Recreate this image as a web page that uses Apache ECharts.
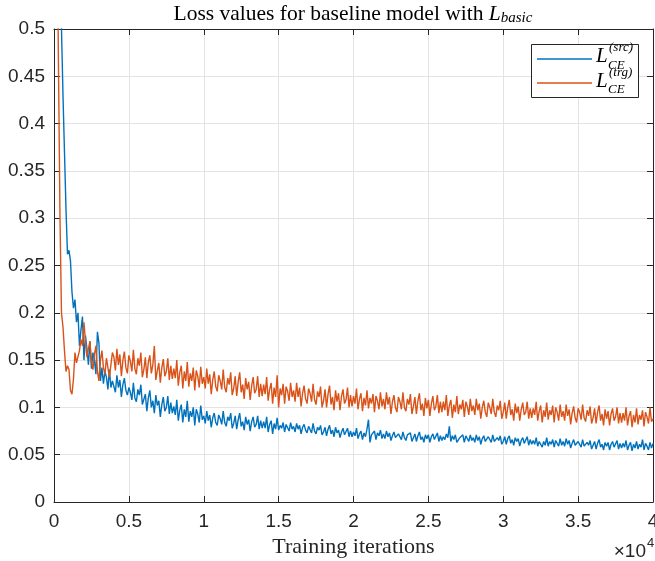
<!DOCTYPE html>
<html>
<head>
<meta charset="utf-8">
<script src="https://cdn.jsdelivr.net/npm/echarts@6/dist/echarts.min.js"></script>
<style>
  html, body { margin: 0; padding: 0; background: #fff; }
  #chart { width: 655px; height: 561px; }
</style>
</head>
<body>
<div id="chart"></div>
<script>
// loss logged every `step` iterations
const step = 100;

const lossSrc = [
  0.86, 0.79, 0.72, 0.64, 0.57, 0.5, 0.43, 0.37, 0.31, 0.262,
  0.266, 0.255, 0.222, 0.205, 0.214, 0.19, 0.2, 0.165, 0.182, 0.196,
  0.15, 0.176, 0.162, 0.145, 0.17, 0.141, 0.158, 0.15, 0.135, 0.18,
  0.168, 0.128, 0.142, 0.125, 0.138, 0.132, 0.119, 0.14, 0.121, 0.128,
  0.127, 0.116, 0.134, 0.121, 0.129, 0.111, 0.124, 0.131, 0.118, 0.113,
  0.121, 0.116, 0.108, 0.126, 0.11, 0.106, 0.119, 0.113, 0.124, 0.103,
  0.104, 0.114, 0.096, 0.11, 0.118, 0.1, 0.107, 0.094, 0.113, 0.102,
  0.107, 0.09, 0.103, 0.111, 0.096, 0.1, 0.112, 0.093, 0.105, 0.094,
  0.101, 0.092, 0.108, 0.086, 0.097, 0.103, 0.084, 0.098, 0.09, 0.107,
  0.085, 0.096, 0.09, 0.1, 0.081, 0.098, 0.093, 0.084, 0.102, 0.087,
  0.091, 0.083, 0.096, 0.086, 0.092, 0.079, 0.089, 0.094, 0.084, 0.081,
  0.092, 0.088, 0.082, 0.096, 0.084, 0.08, 0.09, 0.086, 0.094, 0.078,
  0.083, 0.091, 0.077, 0.087, 0.094, 0.08, 0.085, 0.076, 0.09, 0.082,
  0.087, 0.075, 0.085, 0.09, 0.079, 0.082, 0.091, 0.077, 0.086, 0.078,
  0.085, 0.078, 0.09, 0.074, 0.082, 0.086, 0.072, 0.083, 0.077, 0.089,
  0.076, 0.081, 0.078, 0.084, 0.074, 0.082, 0.08, 0.075, 0.084, 0.077,
  0.08, 0.074, 0.083, 0.077, 0.081, 0.072, 0.079, 0.082, 0.076, 0.073,
  0.08, 0.078, 0.073, 0.083, 0.075, 0.072, 0.079, 0.076, 0.081, 0.071,
  0.074, 0.079, 0.07, 0.077, 0.081, 0.072, 0.076, 0.069, 0.079, 0.073,
  0.076, 0.068, 0.074, 0.078, 0.071, 0.072, 0.078, 0.069, 0.075, 0.069,
  0.074, 0.07, 0.078, 0.067, 0.072, 0.075, 0.066, 0.073, 0.069, 0.077,
  0.087, 0.063, 0.071, 0.069, 0.075, 0.066, 0.073, 0.07, 0.076, 0.067,
  0.072, 0.067, 0.075, 0.069, 0.073, 0.065, 0.07, 0.074, 0.068, 0.066,
  0.072, 0.07, 0.066, 0.074, 0.068, 0.065, 0.071, 0.069, 0.073, 0.064,
  0.068, 0.072, 0.064, 0.07, 0.074, 0.066, 0.069, 0.063, 0.071, 0.067,
  0.071, 0.063, 0.069, 0.072, 0.066, 0.068, 0.073, 0.064, 0.07, 0.065,
  0.069, 0.066, 0.072, 0.068, 0.08, 0.064, 0.07, 0.066, 0.071, 0.063,
  0.064, 0.068, 0.066, 0.071, 0.063, 0.07, 0.068, 0.064, 0.071, 0.065,
  0.068, 0.063, 0.071, 0.065, 0.069, 0.061, 0.067, 0.07, 0.064, 0.062,
  0.069, 0.067, 0.063, 0.071, 0.064, 0.062, 0.068, 0.065, 0.07, 0.061,
  0.064, 0.069, 0.061, 0.067, 0.07, 0.062, 0.066, 0.06, 0.068, 0.064,
  0.067, 0.059, 0.065, 0.068, 0.062, 0.064, 0.069, 0.06, 0.066, 0.061,
  0.065, 0.061, 0.068, 0.059, 0.064, 0.066, 0.058, 0.064, 0.06, 0.068,
  0.059, 0.064, 0.061, 0.066, 0.058, 0.065, 0.063, 0.059, 0.067, 0.06,
  0.064, 0.059, 0.067, 0.061, 0.065, 0.057, 0.062, 0.066, 0.06, 0.058,
  0.064, 0.062, 0.058, 0.066, 0.059, 0.057, 0.063, 0.06, 0.065, 0.056,
  0.06, 0.064, 0.056, 0.062, 0.066, 0.058, 0.061, 0.055, 0.063, 0.059,
  0.063, 0.055, 0.061, 0.064, 0.058, 0.06, 0.065, 0.056, 0.062, 0.057,
  0.062, 0.058, 0.065, 0.055, 0.06, 0.063, 0.054, 0.061, 0.057, 0.064,
  0.056, 0.061, 0.058, 0.066, 0.055, 0.062, 0.059, 0.055, 0.063, 0.057,
  0.062
];

const lossTrg = [
  0.95, 0.78, 0.62, 0.46, 0.3, 0.2, 0.185, 0.16, 0.138, 0.144,
  0.14, 0.118, 0.114, 0.13, 0.158, 0.147, 0.145, 0.16, 0.172, 0.165,
  0.19, 0.17, 0.153, 0.162, 0.17, 0.148, 0.14, 0.156, 0.165, 0.138,
  0.128, 0.15, 0.16, 0.142, 0.135, 0.152, 0.15, 0.132, 0.145, 0.158,
  0.153, 0.139, 0.162, 0.145, 0.156, 0.133, 0.15, 0.159, 0.142, 0.136,
  0.155, 0.149, 0.138, 0.161, 0.141, 0.135, 0.152, 0.144, 0.158, 0.132,
  0.14, 0.153, 0.131, 0.148, 0.155, 0.136, 0.145, 0.165, 0.129, 0.139,
  0.147, 0.126, 0.142, 0.151, 0.133, 0.138, 0.152, 0.129, 0.144, 0.13,
  0.141, 0.131, 0.15, 0.123, 0.137, 0.144, 0.12, 0.138, 0.128, 0.148,
  0.122, 0.136, 0.128, 0.142, 0.118, 0.139, 0.133, 0.121, 0.143, 0.125,
  0.132, 0.12, 0.141, 0.125, 0.135, 0.114, 0.129, 0.138, 0.122, 0.117,
  0.134, 0.128, 0.119, 0.14, 0.121, 0.116, 0.131, 0.124, 0.137, 0.113,
  0.12, 0.133, 0.112, 0.127, 0.137, 0.116, 0.124, 0.109, 0.131, 0.119,
  0.127, 0.108, 0.123, 0.132, 0.115, 0.119, 0.133, 0.111, 0.125, 0.112,
  0.124, 0.114, 0.132, 0.107, 0.119, 0.126, 0.104, 0.121, 0.111, 0.134,
  0.1, 0.12, 0.113, 0.125, 0.104, 0.122, 0.117, 0.107, 0.126, 0.111,
  0.118, 0.106, 0.126, 0.111, 0.121, 0.101, 0.115, 0.123, 0.109, 0.104,
  0.12, 0.115, 0.106, 0.125, 0.108, 0.103, 0.117, 0.111, 0.122, 0.1,
  0.107, 0.119, 0.1, 0.114, 0.123, 0.103, 0.111, 0.097, 0.118, 0.106,
  0.115, 0.097, 0.112, 0.119, 0.104, 0.108, 0.121, 0.1, 0.113, 0.101,
  0.112, 0.104, 0.12, 0.098, 0.109, 0.115, 0.096, 0.11, 0.102, 0.118,
  0.099, 0.11, 0.104, 0.114, 0.095, 0.112, 0.107, 0.098, 0.116, 0.101,
  0.109, 0.098, 0.116, 0.103, 0.111, 0.093, 0.106, 0.113, 0.1, 0.095,
  0.111, 0.106, 0.098, 0.116, 0.1, 0.096, 0.109, 0.103, 0.114, 0.093,
  0.101, 0.111, 0.093, 0.107, 0.115, 0.097, 0.104, 0.091, 0.11, 0.099,
  0.108, 0.091, 0.104, 0.112, 0.097, 0.101, 0.113, 0.094, 0.106, 0.095,
  0.106, 0.097, 0.113, 0.091, 0.102, 0.108, 0.089, 0.103, 0.095, 0.112,
  0.093, 0.103, 0.098, 0.108, 0.09, 0.106, 0.101, 0.092, 0.109, 0.096,
  0.102, 0.092, 0.109, 0.097, 0.104, 0.088, 0.1, 0.107, 0.095, 0.09,
  0.105, 0.1, 0.093, 0.109, 0.095, 0.09, 0.102, 0.097, 0.107, 0.088,
  0.095, 0.105, 0.088, 0.1, 0.108, 0.092, 0.098, 0.086, 0.104, 0.094,
  0.101, 0.086, 0.098, 0.105, 0.092, 0.095, 0.106, 0.088, 0.099, 0.089,
  0.099, 0.092, 0.106, 0.086, 0.096, 0.102, 0.084, 0.097, 0.09, 0.105,
  0.087, 0.097, 0.092, 0.102, 0.084, 0.1, 0.095, 0.086, 0.103, 0.09,
  0.096, 0.086, 0.103, 0.091, 0.098, 0.082, 0.094, 0.101, 0.089, 0.084,
  0.099, 0.095, 0.087, 0.103, 0.089, 0.085, 0.097, 0.091, 0.101, 0.083,
  0.089, 0.099, 0.083, 0.095, 0.102, 0.086, 0.093, 0.081, 0.098, 0.088,
  0.096, 0.081, 0.093, 0.099, 0.086, 0.09, 0.1, 0.083, 0.094, 0.084,
  0.094, 0.086, 0.1, 0.081, 0.091, 0.096, 0.079, 0.092, 0.084, 0.099,
  0.082, 0.092, 0.087, 0.097, 0.08, 0.095, 0.09, 0.083, 0.1, 0.085,
  0.088
];

const xMax = 40000;
const xTickStep = 5000;
const yTickStep = 0.05;

const colors = ['#0072BD', '#D95319'];
const axisColor = '#262626';
const gridColor = '#e3e3e3';
const serif = '"Liberation Serif", "DejaVu Serif", serif';
const sans = '"Liberation Sans", Arial, sans-serif';

const chart = echarts.init(document.getElementById('chart'), null, { renderer: 'canvas' });

const baseX = {
  type: 'value', min: 0, max: xMax, interval: xTickStep,
  axisLine: { show: true, onZero: false, lineStyle: { color: axisColor, width: 1 } },
  axisTick: { show: true, inside: true, length: 6, lineStyle: { color: axisColor } }
};
const baseY = {
  type: 'value', min: 0, max: 0.5, interval: yTickStep,
  axisLine: { show: true, onZero: false, lineStyle: { color: axisColor, width: 1 } },
  axisTick: { show: true, inside: true, length: 6, lineStyle: { color: axisColor } }
};

const txt = (x, y, text, size, extra) => ({
  type: 'text', z: 101, x, y,
  style: Object.assign({ text, fontFamily: serif, fontSize: size, fontStyle: 'italic', fill: '#000', verticalAlign: 'middle' }, extra || {})
});

chart.setOption({
  animation: false,
  backgroundColor: '#fff',
  title: {
    text: '{n|Loss values for baseline model with }{L|L}{s|basic}',
    left: 353,
    top: 2,
    textAlign: 'center',
    padding: 0,
    textStyle: {
      fontWeight: 'normal',
      rich: {
        n: { fontFamily: serif, fontSize: 21.5, fontWeight: 'normal', color: '#000', lineHeight: 24 },
        L: { fontFamily: serif, fontSize: 21.5, fontWeight: 'normal', fontStyle: 'italic', color: '#000', lineHeight: 24 },
        s: { fontFamily: serif, fontSize: 15, fontWeight: 'normal', fontStyle: 'italic', color: '#000', lineHeight: 12, verticalAlign: 'bottom' }
      }
    }
  },
  grid: { left: 54, right: 2, top: 29, bottom: 59, containLabel: false, outerBoundsMode: 'none' },
  xAxis: [
    Object.assign({}, baseX, {
      position: 'bottom',
      name: 'Training iterations',
      nameLocation: 'middle',
      nameGap: 33,
      nameTextStyle: { fontFamily: serif, fontSize: 22, color: axisColor },
      axisLabel: {
        color: axisColor, fontFamily: sans, fontSize: 19, margin: 10,
        formatter: v => String(v / 10000)
      },
      splitLine: { show: true, lineStyle: { color: gridColor, width: 1 } }
    }),
    Object.assign({}, baseX, {
      position: 'top',
      axisLabel: { show: false },
      splitLine: { show: false }
    })
  ],
  yAxis: [
    Object.assign({}, baseY, {
      position: 'left',
      axisLabel: {
        color: axisColor, fontFamily: sans, fontSize: 19, margin: 9,
        formatter: v => String(+v.toFixed(2))
      },
      splitLine: { show: true, lineStyle: { color: gridColor, width: 1 } }
    }),
    Object.assign({}, baseY, {
      position: 'right',
      axisLabel: { show: false },
      splitLine: { show: false }
    })
  ],
  series: [
    {
      name: 'src',
      type: 'line',
      xAxisIndex: 0, yAxisIndex: 0,
      showSymbol: false, symbol: 'none',
      lineStyle: { color: colors[0], width: 1.4 },
      data: lossSrc.map((v, i) => [i * step, v])
    },
    {
      name: 'trg',
      type: 'line',
      xAxisIndex: 0, yAxisIndex: 0,
      showSymbol: false, symbol: 'none',
      lineStyle: { color: colors[1], width: 1.4 },
      data: lossTrg.map((v, i) => [i * step, v])
    }
  ],
  graphic: [
    // legend box
    { type: 'rect', z: 100, shape: { x: 531.5, y: 44.5, width: 107, height: 53 },
      style: { fill: '#fff', stroke: axisColor, lineWidth: 1 } },
    { type: 'line', z: 101, shape: { x1: 537, y1: 59, x2: 592, y2: 59 },
      style: { stroke: colors[0], lineWidth: 1.5 } },
    { type: 'line', z: 101, shape: { x1: 537, y1: 83, x2: 592, y2: 83 },
      style: { stroke: colors[1], lineWidth: 1.5 } },
    txt(596, 56, 'L', 21),
    txt(609, 48, '(src)', 13),
    txt(608, 65.5, 'CE', 13),
    txt(596, 81, 'L', 21),
    txt(609, 73, '(trg)', 13),
    txt(608, 90, 'CE', 13),
    // axis exponent
    txt(646, 552, '\u00d710', 19, { fontFamily: sans, fontStyle: 'normal', fill: axisColor, align: 'right' }),
    txt(647, 543, '4', 13, { fontFamily: sans, fontStyle: 'normal', fill: axisColor, align: 'left' })
  ]
});
</script>
</body>
</html>
